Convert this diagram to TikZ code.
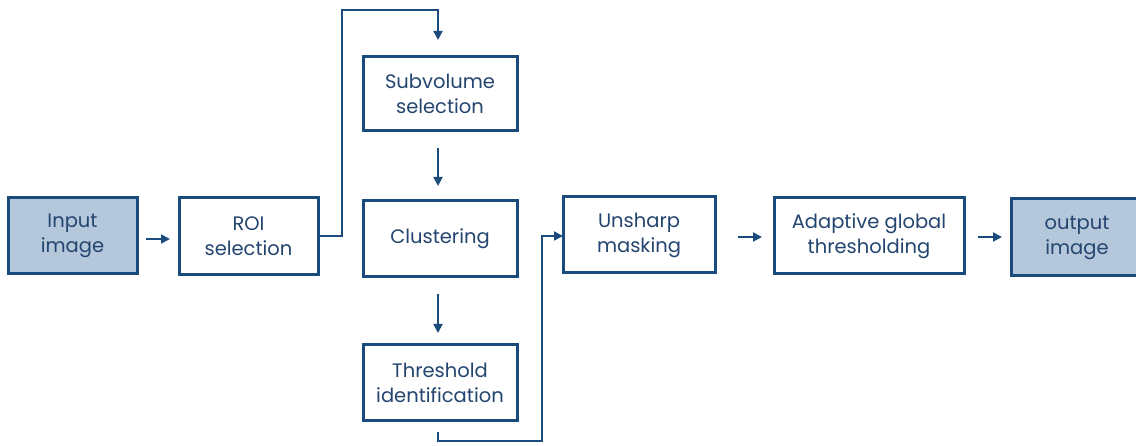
\documentclass[tikz,border=0pt]{standalone}
\usepackage{fontspec}
\setmainfont{Poppins}
\usetikzlibrary{arrows.meta}
\definecolor{dblue}{HTML}{1B4B7C}
\definecolor{tblue}{HTML}{23456F}
\definecolor{lfill}{HTML}{B5C7DA}
\tikzset{
  box/.style={draw=dblue, line width=3pt, fill=white, text=tblue, align=center, font=\fontsize{19.5}{25}\selectfont},
  inout/.style={box, fill=lfill},
  conn/.style={draw=dblue, line width=1.8pt, -{Triangle[length=9pt,width=9pt]}},
}
\begin{document}
\begin{tikzpicture}[x=1pt,y=-1pt]
\clip (0,0) rectangle (1136,446);
\useasboundingbox (0,0) rectangle (1136,446);
\fill[white] (0,0) rectangle (1136,446);
\node[inout, minimum width=129pt, minimum height=76pt] (in) at (72.5,236) {Input\\image};
\node[box, minimum width=139pt, minimum height=77pt] (roi) at (248.5,236.5) {ROI\\selection};
\node[box, minimum width=154pt, minimum height=74pt] (sub) at (440,94) {Subvolume\\selection};
\node[box, minimum width=154pt, minimum height=76pt] (clu) at (440,239) {Clustering};
\node[box, minimum width=154pt, minimum height=76pt] (thr) at (440,383) {Threshold\\identification};
\node[box, minimum width=152pt, minimum height=76pt] (uns) at (639,235) {Unsharp\\masking};
\node[box, minimum width=190pt, minimum height=76pt] (ada) at (869,236) {Adaptive global\\thresholding};
\node[inout, minimum width=132pt, minimum height=77pt] (out) at (1077,237.5) {output\\image};

\coordinate (a1s) at (146,239);
\coordinate (a1e) at (170,239);
\draw[conn] (a1s) -- (a1e);
\draw[conn] (roi.east |- 0,236) -- (342,236) -- (342,10) -- (438,10) -- (438,40);
\draw[conn] (438,148) -- (438,186);
\draw[conn] (438,294) -- (438,333);
\draw[conn] (438,432) -- (438,441) -- (542,441) -- (542,236) -- (563,236);
\draw[conn] (738,237) -- (762,237);
\draw[conn] (978,237) -- (1002,237);
\end{tikzpicture}
\end{document}
